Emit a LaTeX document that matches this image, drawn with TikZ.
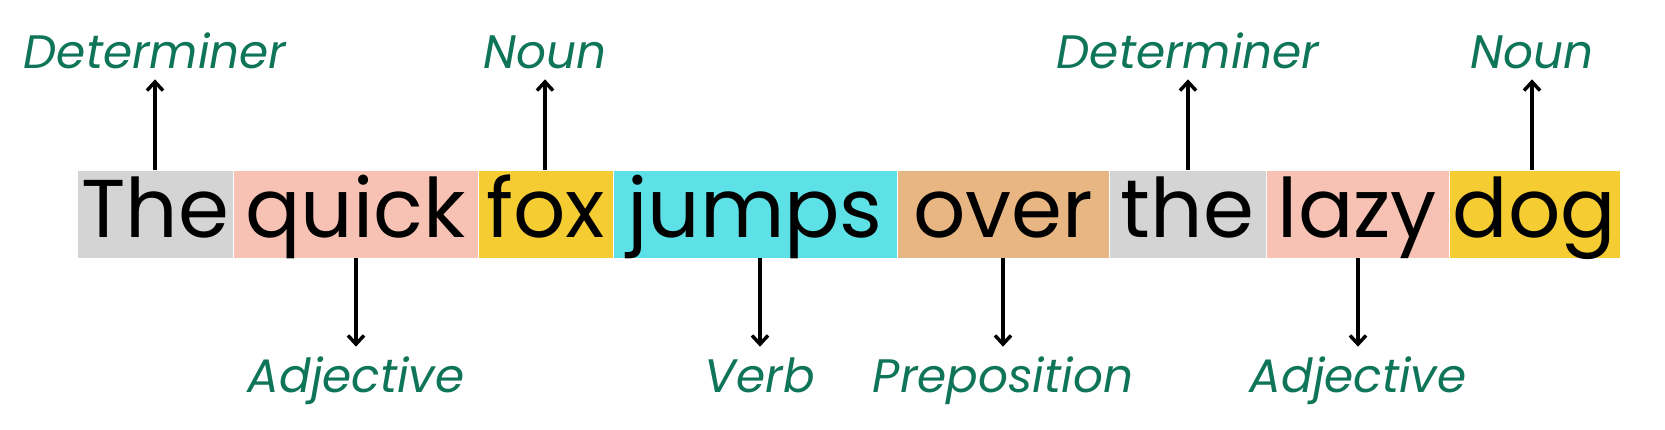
\documentclass[tikz,border=0pt]{standalone}
\usepackage{fontspec}
\setmainfont{Poppins}
\usetikzlibrary{arrows.meta}
\definecolor{cgray}{HTML}{D4D4D4}
\definecolor{csalmon}{HTML}{F7C2B4}
\definecolor{cyellow}{HTML}{F5CD33}
\definecolor{ccyan}{HTML}{5DE1E6}
\definecolor{ctan}{HTML}{E8B682}
\definecolor{cgreen}{HTML}{0F7558}
\tikzset{
  wordbox/.style={draw=white, line width=0.75pt, inner sep=0pt, outer sep=0pt,
    text height=50.25pt, text depth=15.75pt, font=\fontsize{61.5}{68}\selectfont},
  poslabel/.style={inner sep=0pt, outer ysep=8.5pt, text height=25.5pt, text depth=0pt,
    text=cgreen, font=\fontsize{35.2}{40}\selectfont\itshape},
  arr/.style={line width=2.6pt, -{Straight Barb[length=6.5pt,width=12pt,line width=2.6pt]}}
}
\begin{document}
\begin{tikzpicture}[x=0.75pt,y=-0.75pt]
\useasboundingbox (0,0) rectangle (1665,429);
% word boxes
\node[wordbox, fill=cgray,    minimum width=117pt]   (w1) at (155,214)    {The};
\node[wordbox, fill=csalmon,  minimum width=183.75pt](w2) at (355.5,214)  {quick};
\node[wordbox, fill=cyellow,  minimum width=101.25pt](w3) at (545.5,214)  {fox};
\node[wordbox, fill=ccyan,    minimum width=213pt]   (w4) at (755,214)    {jumps};
\node[wordbox, fill=ctan,     minimum width=159pt]   (w5) at (1003,214)   {over};
\node[wordbox, fill=cgray,    minimum width=117.75pt](w6) at (1187.5,214) {the};
\node[wordbox, fill=csalmon,  minimum width=137.25pt](w7) at (1357.5,214) {lazy};
\node[wordbox, fill=cyellow,  minimum width=128.25pt](w8) at (1534.5,214) {dog};
% top labels
\node[poslabel, anchor=base] (l1) at (155,68)  {Determiner};
\node[poslabel, anchor=base] (l3) at (545,68)  {Noun};
\node[poslabel, anchor=base] (l6) at (1188,68) {Determiner};
\node[poslabel, anchor=base] (l8) at (1532,68) {Noun};
% bottom labels
\node[poslabel, anchor=base] (l2) at (356,392)  {Adjective};
\node[poslabel, anchor=base] (l4) at (760,392)  {Verb};
\node[poslabel, anchor=base] (l5) at (1003,392) {Preposition};
\node[poslabel, anchor=base] (l7) at (1358,392) {Adjective};
% arrows
\draw[arr] (l1.south |- w1.north) -- (l1.south);
\draw[arr] (l3.south |- w3.north) -- (l3.south);
\draw[arr] (l6.south |- w6.north) -- (l6.south);
\draw[arr] (l8.south |- w8.north) -- (l8.south);
\draw[arr] (l2.north |- w2.south) -- (l2.north);
\draw[arr] (l4.north |- w4.south) -- (l4.north);
\draw[arr] (l5.north |- w5.south) -- (l5.north);
\draw[arr] (l7.north |- w7.south) -- (l7.north);
\end{tikzpicture}
\end{document}
